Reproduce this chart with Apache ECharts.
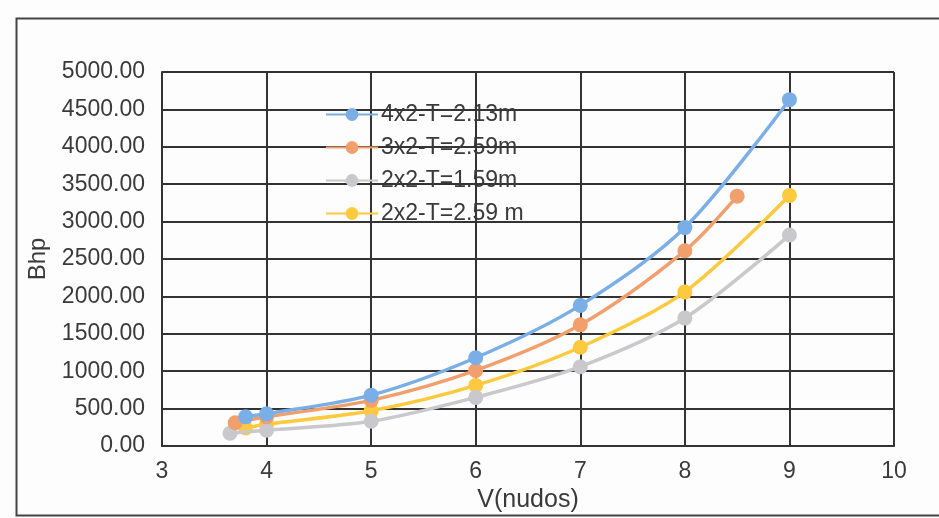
<!DOCTYPE html>
<html lang="es">
  <head>
    <meta charset="UTF-8" />
    <title>Bhp vs V</title>
    <script src="https://cdn.jsdelivr.net/npm/echarts@6/dist/echarts.min.js"></script>
    <style>
      html, body { margin: 0; padding: 0; background: #fdfdfd; }
    </style>
  </head>
  <body>
    <div id="chart" style="width: 939px; height: 518px"></div>

    <script type="text/javascript">
      // Series names
      const names = ["4x2-T=2.13m", "3x2-T=2.59m", "2x2-T=1.59m", "2x2-T=2.59 m"];

      // Velocidad (nudos) per series
      const v4x2_213 = [3.8, 4, 5, 6, 7, 8, 9];
      const v3x2_259 = [3.7, 4, 5, 6, 7, 8, 8.5];
      const v2x2_159 = [3.65, 4, 5, 6, 7, 8, 9];
      const v2x2_259 = [3.8, 4, 5, 6, 7, 8, 9];

      // Bhp per series
      const bhp4x2_213 = [390, 430, 680, 1180, 1880, 2920, 4630];
      const bhp3x2_259 = [310, 390, 610, 1010, 1620, 2610, 3340];
      const bhp2x2_159 = [170, 210, 330, 650, 1060, 1710, 2820];
      const bhp2x2_259 = [240, 290, 470, 810, 1320, 2060, 3350];

      const colors = ["#7aaee6", "#f29f6e", "#c8c8cd", "#fdc93e"];

      const pairs = (xs, ys) => xs.map((x, i) => [x, ys[i]]);
      const seriesData = [
        pairs(v4x2_213, bhp4x2_213),
        pairs(v3x2_259, bhp3x2_259),
        pairs(v2x2_159, bhp2x2_159),
        pairs(v2x2_259, bhp2x2_259),
      ];

      const chart = echarts.init(document.getElementById("chart"));

      const font = "Liberation Sans, Arial, sans-serif";
      const ink = "#3a3a3a";

      chart.setOption({
        animation: false,
        backgroundColor: "#fdfdfd",
        color: colors,
        textStyle: { fontFamily: font },
        grid: { left: 162, right: 45, top: 72, bottom: 72 },
        graphic: [
          {
            // outer chart frame
            type: "rect",
            left: 14,
            top: 16,
            shape: { width: 940, height: 497 },
            style: { fill: "none", stroke: "#444", lineWidth: 2 },
            silent: true,
          },
        ],
        legend: {
          orient: "vertical",
          left: 320,
          top: 98,
          itemWidth: 52,
          itemHeight: 16,
          itemGap: 10,
          textStyle: { fontSize: 23, color: ink, fontFamily: font, padding: [0, 0, 0, -2] },
          data: names,
        },
        xAxis: {
          type: "value",
          min: 3,
          max: 10,
          interval: 1,
          name: "V(nudos)",
          nameLocation: "middle",
          nameGap: 40,
          nameTextStyle: { fontSize: 25, color: ink },
          axisLine: { lineStyle: { color: "#333", width: 2 } },
          axisTick: { show: false },
          axisLabel: { fontSize: 23, color: ink, margin: 14 },
          splitLine: { show: true, lineStyle: { color: "#333", width: 2 } },
        },
        yAxis: {
          type: "value",
          min: 0,
          max: 5000,
          interval: 500,
          name: "Bhp",
          nameLocation: "middle",
          nameGap: 112,
          nameTextStyle: { fontSize: 24, color: ink },
          axisLine: { show: true, lineStyle: { color: "#333", width: 2 } },
          axisTick: { show: false },
          axisLabel: {
            fontSize: 23,
            color: ink,
            margin: 17,
            formatter: (v) => v.toFixed(2),
          },
          splitLine: { show: true, lineStyle: { color: "#333", width: 2 } },
        },
        series: names.map((name, i) => ({
          name: name,
          type: "line",
          smooth: 0.3,
          data: seriesData[i],
          symbol: "circle",
          symbolSize: 15,
          lineStyle: { width: 3.5, color: colors[i] },
          itemStyle: { color: colors[i] },
          z: 10 - i,
        })),
      });
    </script>
  </body>
</html>
